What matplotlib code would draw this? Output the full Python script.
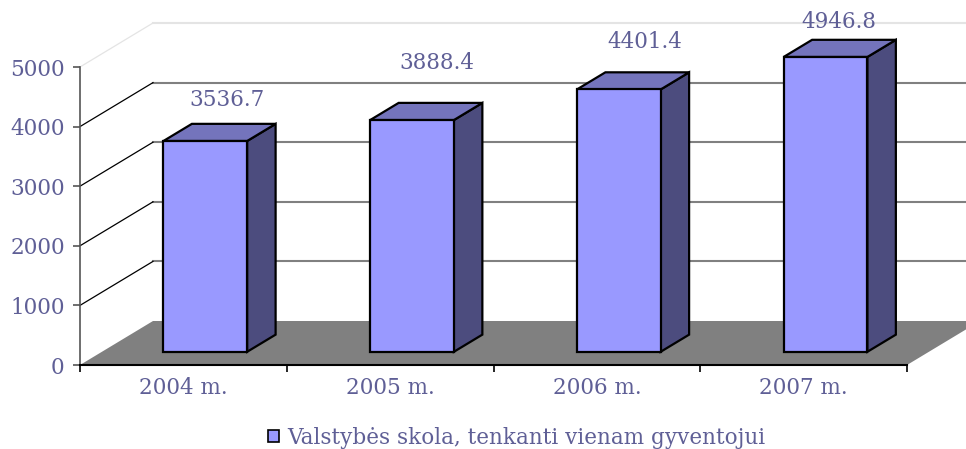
import numpy as np
import matplotlib
matplotlib.use('Agg')
import matplotlib.pyplot as plt
from matplotlib.patches import Polygon, Patch

# data
years  = ['2004 m.', '2005 m.', '2006 m.', '2007 m.']
values = [3536.7, 3888.4, 4401.4, 4946.8]
yticks = [0, 1000, 2000, 3000, 4000, 5000]
series_name = 'Valstybės skola, tenkanti vienam gyventojui'

# colours / style
c_front = '#9999ff'
c_top   = '#7474bc'
c_side  = '#4c4c7e'
c_floor = '#808080'
c_text  = '#5f5f96'
plt.rcParams['font.family'] = ['DejaVu Serif']
fs = 15.5

# label nudges (pixels, from front-top centre of each bar)
lab_dx = [22, 25, 26, 13]
lab_dy = [41, 57, 47, 35]

fig = plt.figure(figsize=(9.66, 4.49), dpi=100, facecolor='w')
ax = fig.add_axes([80/966., (449-365)/449., 827/966., 298/449.])
ax.set_xlim(-0.5, 3.5)
ax.set_ylim(0, 5000)
ax.patch.set_visible(False)

# oblique depth vector in data units (73 px right, 44 px up for full depth)
DX = 73/827.*4
DY = 44/298.*5000
f0 = 0.30     # front of bars
dep = 0.39    # bar depth
w = 0.405     # bar width
x = np.arange(len(years))
n = len(years)

# floor
ax.add_patch(Polygon([(-0.5, 0), (n-0.5, 0), (n-0.5+DX, DY), (-0.5+DX, DY)],
                     closed=True, facecolor=c_floor, edgecolor='none',
                     clip_on=False, zorder=1))
# back wall gridlines + left wall diagonals
for v in yticks[1:]:
    col = '#e4e4e4' if v == yticks[-1] else '#808080'
    dcol = '#e4e4e4' if v == yticks[-1] else 'k'
    ax.plot([-0.5+DX, n-0.5+DX], [v+DY, v+DY], color=col, lw=1.5,
            clip_on=False, zorder=1)
    ax.plot([-0.5, -0.5+DX], [v, v+DY], color=dcol, lw=0.9,
            clip_on=False, zorder=1)

# bars: front face
ax.bar(x + f0*DX, values, width=w, bottom=f0*DY, color=c_front,
       edgecolor='k', linewidth=1.6, zorder=3, clip_on=False)
for i, v in enumerate(values):
    xl = x[i] + f0*DX - w/2
    xr = x[i] + f0*DX + w/2
    b = f0*DY
    t = f0*DY + v
    # side
    ax.add_patch(Polygon([(xr, b), (xr, t), (xr+dep*DX, t+dep*DY), (xr+dep*DX, b+dep*DY)],
                         closed=True, facecolor=c_side, edgecolor='k',
                         linewidth=1.6, zorder=2.9, clip_on=False))
    # top
    ax.add_patch(Polygon([(xl, t), (xr, t), (xr+dep*DX, t+dep*DY), (xl+dep*DX, t+dep*DY)],
                         closed=True, facecolor=c_top, edgecolor='k',
                         linewidth=1.6, zorder=2.9, clip_on=False))
    ax.annotate('%.1f' % v, (x[i] + f0*DX, t), xytext=(lab_dx[i], lab_dy[i]),
                textcoords='offset pixels', ha='center', va='center',
                fontsize=fs, color=c_text, annotation_clip=False)

# axes
for s in ['top', 'right']:
    ax.spines[s].set_visible(False)
ax.spines['left'].set_color('#555555')
ax.spines['left'].set_linewidth(1.2)
ax.spines['bottom'].set_color('k')
ax.spines['bottom'].set_linewidth(1.5)
ax.spines['bottom'].set_zorder(4)

ax.set_yticks(yticks)
ax.set_yticklabels([str(t) for t in yticks])
ax.tick_params(axis='y', direction='out', length=5, width=1.2, color='#555555',
               pad=6, labelsize=fs, labelcolor=c_text)
ax.set_xticks(np.arange(n+1) - 0.5)
ax.set_xticklabels([])
ax.set_xticks(x, minor=True)
ax.set_xticklabels(years, minor=True)
ax.tick_params(axis='x', which='major', direction='out', length=5, width=1.2, color='k')
ax.tick_params(axis='x', which='minor', length=0, pad=9, labelsize=fs,
               labelcolor=c_text)

# legend
h = Patch(facecolor=c_front, edgecolor='k', linewidth=1.2)
fig.legend([h], [series_name], loc='center', bbox_to_anchor=(517/966., 1-438/449.),
           frameon=False, fontsize=fs, labelcolor=c_text, handlelength=0.5,
           handleheight=0.5, handletextpad=0.4, borderpad=0, borderaxespad=0)

fig.savefig('out.png', dpi=100, facecolor='w')
